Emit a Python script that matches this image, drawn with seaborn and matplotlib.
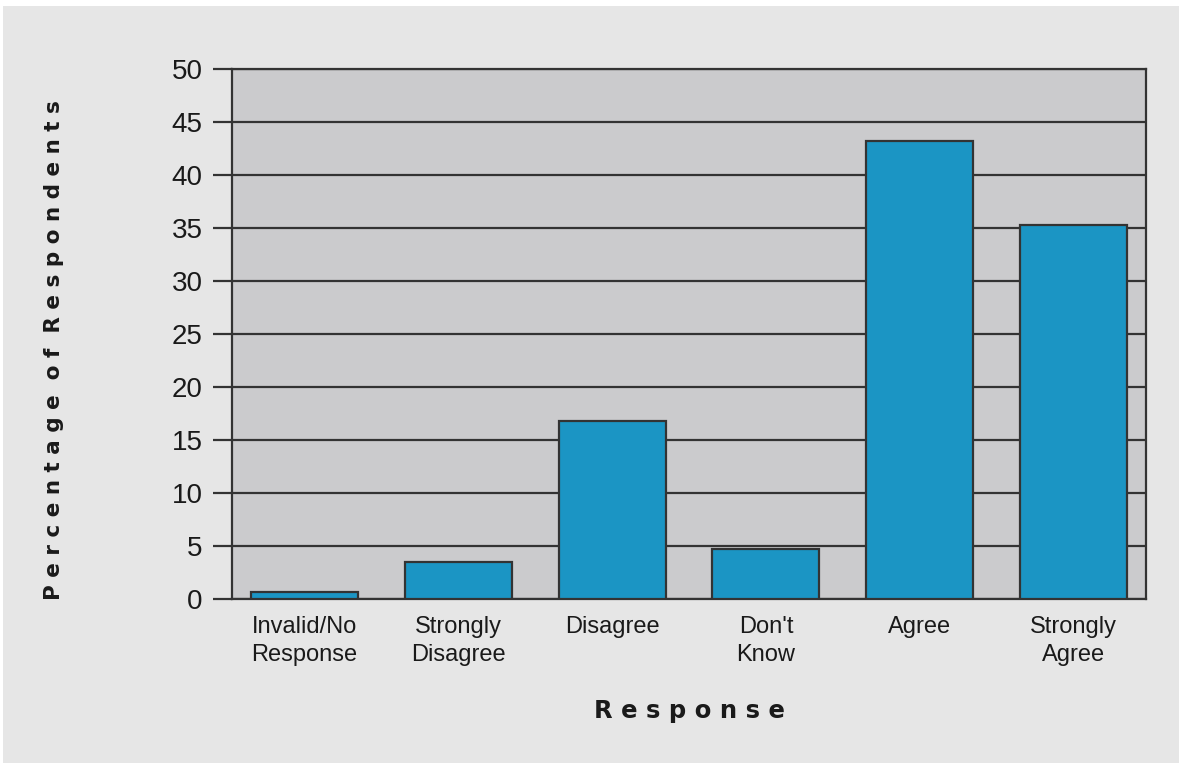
import matplotlib
matplotlib.use("Agg")
import matplotlib.pyplot as plt
from matplotlib.patches import Rectangle
import seaborn as sns
import pandas as pd

# Survey responses and share of respondents (%)
responses = ["Invalid/No\nResponse", "Strongly\nDisagree", "Disagree",
             "Don't\nKnow", "Agree", "Strongly\nAgree"]
percentages = [0.7, 3.5, 16.8, 4.7, 43.2, 35.3]
y_ticks = [0, 5, 10, 15, 20, 25, 30, 35, 40, 45, 50]

df = pd.DataFrame({"Response": responses, "Percentage": percentages})

sns.set_theme(style="white")
plt.rcParams["font.family"] = ["Liberation Sans", "DejaVu Sans"]

W, H = 1179, 763
fig = plt.figure(figsize=(W / 100, H / 100), dpi=100, facecolor="white")
# light grey panel behind the whole chart (thin white margin on top and left)
fig.patches.append(Rectangle((3 / W, 0), 1 - 3 / W, 1 - 6 / H,
                             transform=fig.transFigure, facecolor="#e6e6e6",
                             edgecolor="none", zorder=-10))

ax = fig.add_axes([232 / W, 1 - 599 / H, (1146 - 232) / W, (599 - 69) / H])
ax.set_facecolor("#cbcbcd")

sns.barplot(data=df, x="Response", y="Percentage", color="#1b95c4",
            saturation=1, width=0.695, edgecolor="#333333", linewidth=1.6,
            ax=ax, zorder=3)

ax.set_ylim(0, 50)
ax.set_xlim(-0.47, 5.47)
ax.set_yticks(y_ticks)
ax.set_yticklabels([str(t) for t in y_ticks], fontsize=20)
ax.yaxis.grid(True, color="#333333", linewidth=1.6, zorder=1)
ax.set_axisbelow(True)
for b in ax.patches:
    b.set_zorder(3)

ax.tick_params(axis="y", which="both", left=True, length=14, width=1.6,
               color="#333333", pad=7, labelcolor="#1a1a1a")
ax.tick_params(axis="x", bottom=False, pad=6, labelsize=17,
               labelcolor="#1a1a1a")
for lbl in ax.get_xticklabels():
    lbl.set_linespacing(1.35)

for side in ["left", "right", "top", "bottom"]:
    ax.spines[side].set_visible(True)
    ax.spines[side].set_color("#333333")
    ax.spines[side].set_linewidth(1.6)

ax.set_xlabel("R e s p o n s e", fontsize=17.5, fontweight="bold",
              family="DejaVu Sans", color="#1a1a1a", labelpad=24)
ax.set_ylabel("P e r c e n t a g e  o f  R e s p o n d e n t s",
              fontsize=15.5, fontweight="bold", family="DejaVu Sans",
              color="#1a1a1a", labelpad=0)
ax.yaxis.set_label_coords(-(232 - 64) / (1146 - 232), (599 - 350) / (599 - 69))

fig.savefig("out.png", dpi=100, facecolor=fig.get_facecolor())
